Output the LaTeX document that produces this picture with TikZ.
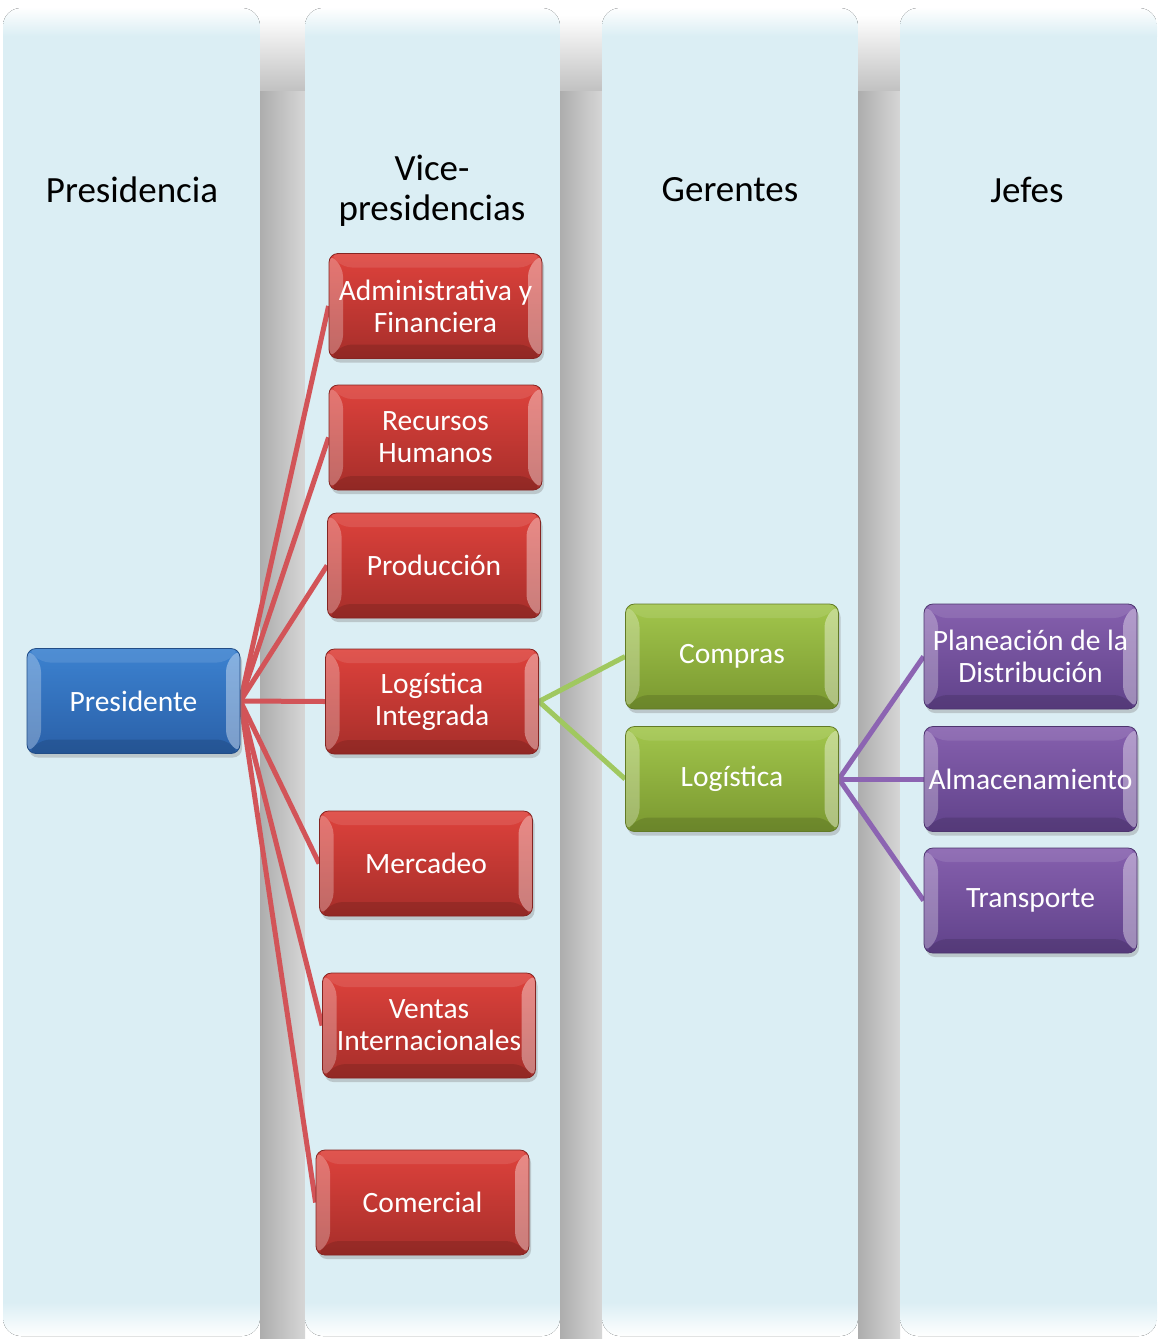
\documentclass[tikz,border=0pt]{standalone}
\usepackage{fontspec}
\setmainfont{Carlito}
\usetikzlibrary{calc,shadows}
\pgfdeclarelayer{bg}
\pgfdeclarelayer{lines}
\pgfsetlayers{bg,lines,main}
\definecolor{colbg}{RGB}{219,238,244}
\definecolor{redtop}{RGB}{222,66,60}
\definecolor{redbot}{RGB}{166,46,42}
\definecolor{bluetop}{RGB}{60,130,208}
\definecolor{bluebot}{RGB}{42,96,168}
\definecolor{greentop}{RGB}{162,198,76}
\definecolor{greenbot}{RGB}{122,152,48}
\definecolor{purptop}{RGB}{134,96,174}
\definecolor{purpbot}{RGB}{96,66,138}
\definecolor{redline}{RGB}{210,84,88}
\definecolor{greenline}{RGB}{160,200,96}
\definecolor{purpline}{RGB}{140,100,178}
\tikzset{
  column/.style={fill=colbg, rounded corners=18pt},
  gapshade/.style={left color=black!32, right color=black!16},
  box/.style={rounded corners=9pt, minimum width=213pt, minimum height=105pt,
    inner sep=0pt, align=center, text=white,
    font=\fontsize{29.5}{32}\selectfont,
    top color=#1top, bottom color=#1bot, draw=#1bot!80!black, line width=0.8pt,
    drop shadow={opacity=0.35, shadow xshift=2pt, shadow yshift=-4pt},
    path picture={
      \fill[white,opacity=0.28] (path picture bounding box.north west) -- ++(14,14)
        -- ($(path picture bounding box.south west)+(14,-14)$)
        -- (path picture bounding box.south west) -- cycle;
      \fill[white,opacity=0.38] (path picture bounding box.north east) -- ++(-14,14)
        -- ($(path picture bounding box.south east)+(-14,-14)$)
        -- (path picture bounding box.south east) -- cycle;
      \fill[white,opacity=0.10] (path picture bounding box.north west) -- ++(14,14)
        -- ($(path picture bounding box.north east)+(-14,14)$)
        -- (path picture bounding box.north east) -- cycle;
      \fill[black,opacity=0.12] (path picture bounding box.south west) -- ++(14,-14)
        -- ($(path picture bounding box.south east)+(-14,-14)$)
        -- (path picture bounding box.south east) -- cycle;
    }},
  header/.style={font=\fontsize{37}{40}\selectfont, align=center, text=black},
  conn/.style={line width=5pt, #1line}
}
\begin{document}
\begin{tikzpicture}[x=1pt,y=-1pt]
\useasboundingbox (0,0) rectangle (1157,1339);
\begin{pgfonlayer}{bg}
\fill[white] (0,0) rectangle (1157,1339);
\foreach \xa/\xb in {260/305, 560/602, 858/900}{
  \fill[gapshade] (\xa,89) rectangle (\xb,1338);
  \fill[top color=white, bottom color=black!24] (\xa,15) rectangle (\xb,90);
}
\foreach \xa/\xb in {3/260, 305/560, 602/858, 900/1157}{
  \begin{scope}
    \clip[rounded corners=18pt] (\xa,8) rectangle (\xb,1336);
    \fill[colbg] (\xa,8) rectangle (\xb,1336);
    \fill[top color=white, bottom color=colbg] (\xa,7) rectangle (\xb,36);
    \fill[top color=colbg, bottom color=white] (\xa,1302) rectangle (\xb,1337);
  \end{scope}
}
\end{pgfonlayer}
% headers
\node[header] (h1) at (132,190) {Presidencia};
\node[header] (h2) at (432,191) {Vice-\\presidencias};
\node[header] (h3) at (730,190) {Gerentes};
\node[header] (h4) at (1027,190) {Jefes};
% boxes
\node[box=blue] (npres) at (133.5,701) {Presidente};
\node[box=red] (nadm) at (435.5,306) {Administrativa y\\Financiera};
\node[box=red] (nrh) at (435.5,437.5) {Recursos\\Humanos};
\node[box=red] (nprod) at (434,565.5) {Producción};
\node[box=red] (nlogi) at (432,701.5) {Logística\\Integrada};
\node[box=red] (nmerc) at (426,863.5) {Mercadeo};
\node[box=red] (nvent) at (429,1025.5) {Ventas\\Internacionales};
\node[box=red] (ncom) at (422.5,1202.5) {Comercial};
\node[box=green] (ncompr) at (732,656.5) {Compras};
\node[box=green] (nlogs) at (732,779) {Logística};
\node[box=purp] (nplan) at (1030.5,656.5) {Planeación de la\\Distribución};
\node[box=purp] (nalm) at (1030.5,779) {Almacenamiento};
\node[box=purp] (ntrans) at (1030.5,900.5) {Transporte};
% connectors
\begin{pgfonlayer}{lines}
\foreach \t in {nadm,nrh,nprod,nlogi,nmerc,nvent,ncom}{
  \draw[conn=red] (npres.east) -- (\t.west);
}
\foreach \t in {ncompr,nlogs}{
  \draw[conn=green] (nlogi.east) -- (\t.west);
}
\foreach \t in {nplan,nalm,ntrans}{
  \draw[conn=purp] (nlogs.east) -- (\t.west);
}
\end{pgfonlayer}
\end{tikzpicture}
\end{document}
